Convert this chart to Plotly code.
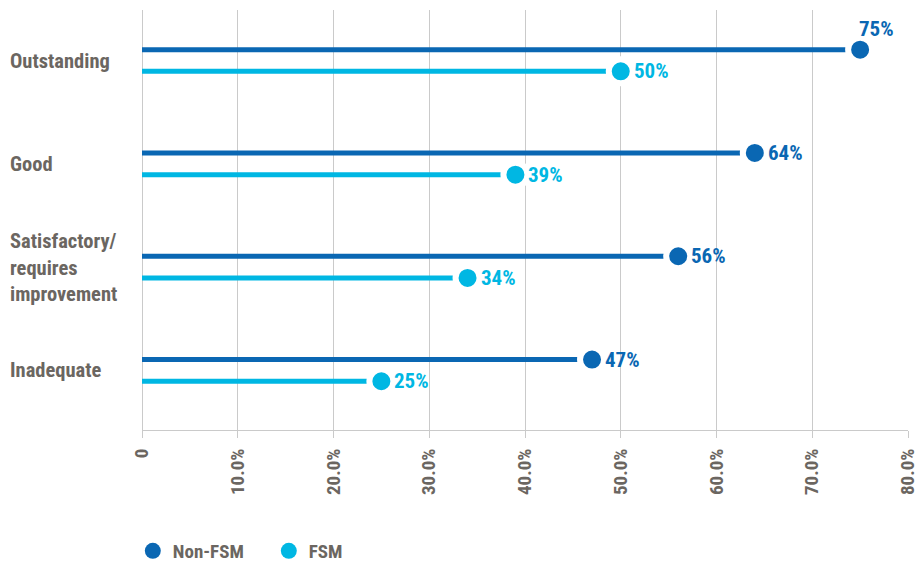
import plotly.graph_objects as go

# Ofsted judgement categories (top to bottom) and the share for each group
categories = ["Outstanding", "Good", "Satisfactory/<br>requires<br>improvement", "Inadequate"]
non_fsm = [75, 64, 56, 47]
fsm = [50, 39, 34, 25]
series_names = ["Non-FSM", "FSM"]
tick_values = [0, 10, 20, 30, 40, 50, 60, 70, 80]
tick_labels = ["0", "10.0%", "20.0%", "30.0%", "40.0%", "50.0%", "60.0%", "70.0%", "80.0%"]

DARK = "#0a67b3"
LIGHT = "#00b7e3"
GREY_TEXT = "#6b6661"
GRID = "#cacaca"
FONT = "Liberation Sans Narrow, Arial Narrow, Roboto Condensed, Liberation Sans, sans-serif"

X_MAX = 80
ROW_OFFSET = 0.105  # vertical split of the two series inside a category band

fig = go.Figure()

for values, name, color, sign in [(non_fsm, series_names[0], DARK, -1),
                                  (fsm, series_names[1], LIGHT, 1)]:
    ys = [i + sign * ROW_OFFSET for i in range(len(values))]

    # stems from zero to the value
    lx, ly = [], []
    for v, y in zip(values, ys):
        lx += [0, v, None]
        ly += [y, y, None]
    fig.add_trace(go.Scatter(
        x=lx, y=ly, mode="lines", line=dict(color=color, width=5),
        hoverinfo="skip", showlegend=False,
    ))

    # end dots, with a white ring that opens a small gap to the stem
    fig.add_trace(go.Scatter(
        x=values, y=ys, mode="markers", name=name,
        marker=dict(color=color, size=24, line=dict(color="white", width=6)),
        showlegend=False,
    ))

    # legend entry
    fig.add_trace(go.Scatter(
        x=[None], y=[None], mode="markers", name=name,
        marker=dict(color=color, size=17),
    ))

    # value labels (the longest one sits above its dot to stay inside the page)
    for v, y in zip(values, ys):
        if v > 72:
            fig.add_annotation(x=v, y=y, text=f"{v}%", showarrow=False,
                               xanchor="left", yanchor="middle",
                               xshift=-3, yshift=21,
                               font=dict(family=FONT, size=21, color=color, weight="bold"))
        else:
            fig.add_annotation(x=v, y=y, text=f"{v}%", showarrow=False,
                               xanchor="left", yanchor="middle", xshift=11,
                               font=dict(family=FONT, size=21, color=color, weight="bold"))

# category labels, left aligned at the page edge
for i, cat in enumerate(categories):
    fig.add_annotation(xref="paper", yref="y", x=-0.175, y=i, text=cat,
                       showarrow=False, xanchor="left", yanchor="middle", align="left",
                       font=dict(family=FONT, size=20.5, color=GREY_TEXT, weight="bold"))

fig.update_xaxes(
    range=[0, X_MAX], tickvals=tick_values, ticktext=tick_labels,
    tickangle=-90, showgrid=True, gridcolor=GRID, gridwidth=1,
    zeroline=True, zerolinecolor=GRID, zerolinewidth=1,
    showline=True, linecolor=GRID, linewidth=1,
    ticks="outside", ticklen=7, tickcolor=GRID, ticklabelstandoff=3,
    tickfont=dict(family=FONT, size=19, color=GREY_TEXT, weight="bold"),
    automargin=False,
)
fig.update_yaxes(
    range=[3.577, -0.489], showgrid=False, zeroline=False,
    showticklabels=False, ticks="", showline=False, automargin=False,
)

fig.update_layout(
    width=920, height=563,
    margin=dict(l=142, r=12, t=10, b=133, autoexpand=False),
    plot_bgcolor="white", paper_bgcolor="white",
    showlegend=True,
    legend=dict(orientation="h", x=-0.012, xanchor="left", y=-0.288, yanchor="middle",
                font=dict(family=FONT, size=19, color=GREY_TEXT, weight="bold"),
                itemsizing="trace", entrywidth=91, traceorder="normal"),
)

fig.write_html("out.html")
